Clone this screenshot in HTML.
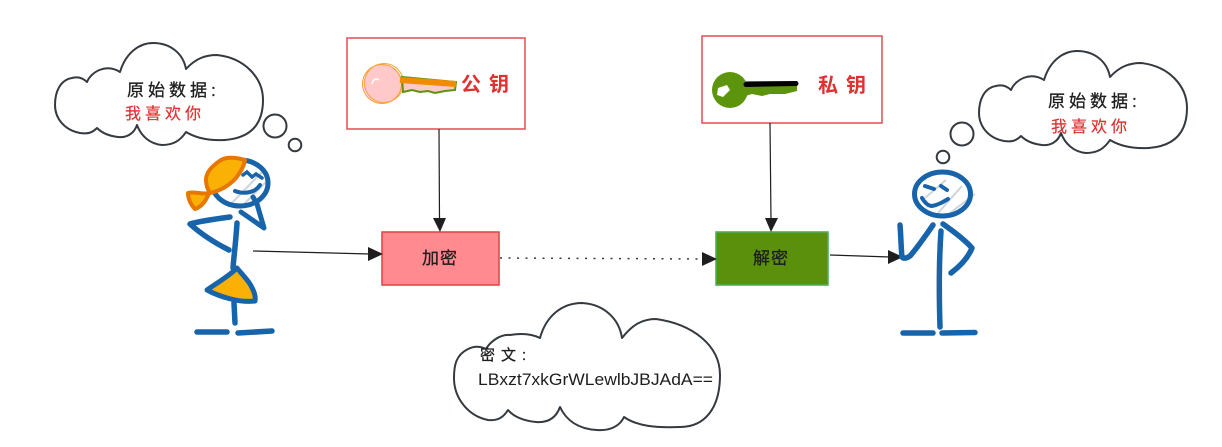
<!DOCTYPE html>
<html lang="zh">
<head>
<meta charset="utf-8">
<title>Diagram</title>
<style>
html,body{margin:0;padding:0;background:#fff;width:1222px;height:447px;overflow:hidden}
svg{display:block}
text{font-family:"Liberation Sans","WenQuanYi Zen Hei","Noto Sans CJK SC",sans-serif}
.blk{fill:#1e1e1e;stroke:#1e1e1e;stroke-width:.3;font-size:17px;letter-spacing:4px}
.red{fill:#e03131;stroke:#e03131;stroke-width:.2;font-size:16px;letter-spacing:4px}
.key{fill:#e03131;font-size:20px;letter-spacing:8px;font-weight:bold}
.box{fill:#1e1e1e;stroke:#1e1e1e;stroke-width:.3;font-size:17px;letter-spacing:1px}
.cloud{fill:#fff;stroke:#343a40;stroke-width:2;stroke-linejoin:round}
.line{stroke:#1e1e1e;stroke-width:1.2;fill:none}
.blue{stroke:#1864ab;stroke-width:5.500;fill:none;stroke-linecap:round;stroke-linejoin:round}
.hatch{stroke:#ced4da;stroke-width:2;fill:none}
</style>
</head>
<body>
<svg width="1222" height="447" viewBox="0 0 1222 447" xmlns="http://www.w3.org/2000/svg">
<defs>
<path id="c" d="M120 72C126 52 140 43 153 43C170 43 183 53 186 69C196 58 206 55 217 55C245 58 263 78 263 100C263 125 250 138 225 140C208 141 196 138 186 132C180 141 173 145 162 145C150 144 141 136 137 125C134 134 126 138 118 137C109 136 102 133 97 128C92 133 88 134 80 133C64 130 55 118 55 105C55 92 60 80 72 78C79 76 84 79 87 82C91 72 106 63 120 72Z"/>
</defs>

<!-- left cloud -->
<use href="#c" class="cloud"/>
<circle cx="275" cy="126" r="11.500" fill="#fff" stroke="#343a40" stroke-width="2"/>
<circle cx="295" cy="145" r="6.300" fill="#fff" stroke="#343a40" stroke-width="2"/>
<text x="127" y="96" class="blk">原始数据:</text>
<text x="125" y="119" class="red">我喜欢你</text>

<!-- right cloud -->
<use href="#c" class="cloud" transform="translate(924 8)"/>
<circle cx="962" cy="134" r="11.500" fill="#fff" stroke="#343a40" stroke-width="2"/>
<circle cx="943" cy="157" r="6.300" fill="#fff" stroke="#343a40" stroke-width="2"/>
<text x="1048" y="107" class="blk">原始数据:</text>
<text x="1051" y="132" class="red">我喜欢你</text>

<!-- cipher cloud -->
<path class="cloud" d="M540 338C546 316 562 303 582 303C603 304 619 318 622 338C632 325 642 319 656 319C692 324 720 345 720 375C720 408 705 427 680 427C655 428 637 426 624 417C620 426 610 431 597 430C578 429 566 420 560 407C556 418 548 423 536 422C526 421 515 418 508 410C503 418 497 421 488 420C468 416 454 398 454 378C454 365 456 355 468 349C474 346 480 346 486 349C490 342 500 334 510 335C522 333 532 334 540 338Z"/>
<text x="480" y="360" class="box" style="font-size:15px;letter-spacing:6px">密文:</text>
<text x="478" y="385" fill="#1e1e1e" textLength="235" lengthAdjust="spacingAndGlyphs" style="font-size:17px">LBxzt7xkGrWLewlbJBJAdA==</text>

<!-- public key box -->
<rect x="347" y="38" width="178" height="91" fill="#fff" stroke="#e5565c" stroke-width="1.600"/>
<circle cx="383" cy="84" r="19.500" fill="#ffc9c9"/>
<circle cx="382" cy="84" r="19.500" fill="none" stroke="#fd9a2a" stroke-width="1"/>
<circle cx="384" cy="83" r="19.500" fill="none" stroke="#f7a440" stroke-width="1"/>
<path d="M372 84C373 79 376 78 379 80" stroke="#fff" stroke-width="1.500" fill="none"/>
<path d="M402 77L456 82L455 90L445 91L435 93L428 91L420 92L412 90L403 92Z" fill="#ffc9c9" stroke="#5c940d" stroke-width="2"/>
<path d="M400 80L456 84" stroke="#f08c00" stroke-width="6" fill="none"/>
<text x="461" y="91" class="key">公钥</text>

<!-- private key box -->
<rect x="702" y="36" width="180" height="87" fill="#fff" stroke="#e5565c" stroke-width="1.600"/>
<circle cx="730" cy="90" r="18" fill="#5c940d"/>
<path d="M742 81L797 81L797 91L785 94L770 94L762 96L752 94L742 97Z" fill="#5c940d"/>
<path d="M718 88L727 85L730 90L723 97L717 95Z" fill="#fff"/>
<path d="M746 84.500L796 83.500" stroke="#000" stroke-width="5" stroke-linecap="round" fill="none"/>
<text x="818" y="92" class="key">私钥</text>

<!-- encrypt / decrypt -->
<rect x="382" y="232" width="117" height="53" fill="#ff8a8f" stroke="#e5484d" stroke-width="1.600"/>
<text x="422" y="264" class="box">加密</text>
<rect x="716" y="232" width="112" height="53" fill="#5a900c" stroke="#4caf5a" stroke-width="1.600"/>
<text x="753" y="264" class="box">解密</text>

<!-- connectors -->
<path class="line" d="M439 129L439.500 220"/>
<path d="M433 218L446 218L440 232Z" fill="#1e1e1e"/>
<path class="line" d="M770 123L771 220"/>
<path d="M765 218L778 218L771 232Z" fill="#1e1e1e"/>
<path class="line" d="M253 251L370 254"/>
<path d="M368 247L368 261L383 254Z" fill="#1e1e1e"/>
<path d="M500 258L703 259" stroke="#343a40" stroke-width="1.500" stroke-dasharray="2 6.500" fill="none"/>
<path d="M702 252L702 266L717 259Z" fill="#1e1e1e"/>
<path class="line" d="M830 255L890 257"/>
<path d="M888 250L888 264L903 257Z" fill="#1e1e1e"/>

<!-- girl -->
<path class="hatch" d="M228 207L262 172M240 208L270 178"/>
<ellipse cx="240" cy="183" rx="28" ry="23" class="blue" style="stroke-width:5"/>
<path d="M188 193C195 191 203 195 209 193C206 201 201 207 195 209C191 205 188 199 188 193Z" fill="#fab005" stroke="#e67700" stroke-width="4" stroke-linejoin="round"/>
<path d="M245 160C235 157 226 157 221 160C212 166 206 172 206 180C206 186 208 190 210 193C220 191 230 185 236 178C240 173 244 166 245 160Z" fill="#fab005" stroke="#e67700" stroke-width="4" stroke-linejoin="round"/>
<path d="M243 175L247 172L252 177L256 174L262 178" stroke="#1864ab" stroke-width="3.500" fill="none" stroke-linecap="round"/>
<path d="M235 191C240 193 246 193 250 192C255 191 258 188 260 185" stroke="#1864ab" stroke-width="4" fill="none" stroke-linecap="round"/>
<path class="blue" d="M241 212L264 228L257 204L253 197" style="stroke-width:5"/>
<path class="blue" d="M230 217C215 219 200 221 190 224C200 233 215 243 229 250"/>
<path class="blue" d="M237 223C236 240 234 255 233 268"/>
<path d="M237 268C228 277 215 284 207 290C220 297 240 303 255 301C256 296 253 289 250 284C246 278 241 273 237 268Z" fill="#fab005" stroke="#1864ab" stroke-width="5" stroke-linejoin="round"/>
<path class="blue" d="M234 303L235 323"/>
<path class="blue" d="M197 332L227 332M238 333L272 331"/>

<!-- man -->
<path class="hatch" d="M925 198L946 180M938 213L962 186M950 213L975 194"/>
<ellipse cx="942.500" cy="194" rx="28" ry="22" class="blue" style="stroke-width:5"/>
<path d="M925 186L934 189M941 186L947 190" stroke="#1864ab" stroke-width="4" fill="none" stroke-linecap="round"/>
<path d="M922 198C925 203 928 206 932 206C938 205 943 202 948 199" stroke="#1864ab" stroke-width="4" fill="none" stroke-linecap="round"/>
<path class="blue" d="M900 225C901 237 901 248 902 257C904 259 907 258 910 256C918 247 926 235 933 225"/>
<path class="blue" d="M943 224C953 231 965 240 972 248C968 258 959 267 951 273"/>
<path class="blue" d="M941 231C939 260 939 295 940 327"/>
<path class="blue" d="M903 333L933 333M942 333L975 332.500"/>
</svg>
</body>
</html>
